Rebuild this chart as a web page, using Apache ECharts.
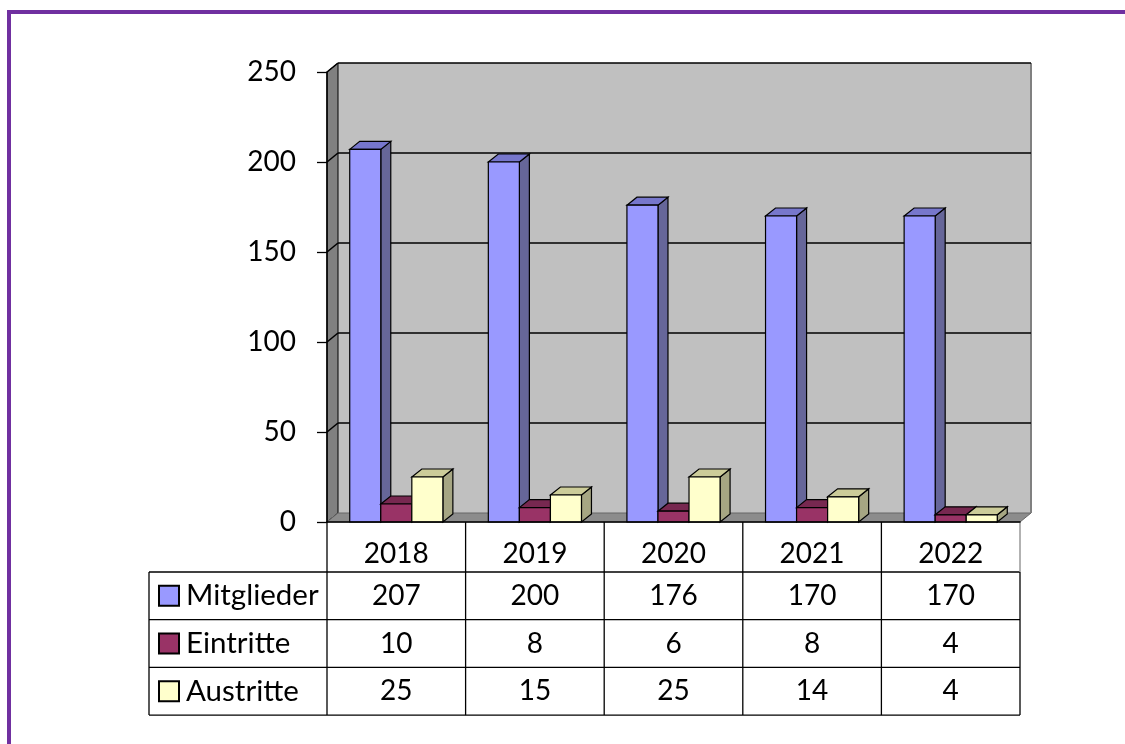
<!DOCTYPE html>
<html><head><meta charset="utf-8">
<script src="https://cdn.jsdelivr.net/npm/echarts@6/dist/echarts.min.js"></script>
<style>html,body{margin:0;padding:0;background:#fff}#c{width:1125px;height:744px}</style>
</head><body><div id="c"></div>
<script>
const categories = ['2018', '2019', '2020', '2021', '2022'];
const seriesNames = ['Mitglieder', 'Eintritte', 'Austritte'];
const mitglieder = [207, 200, 176, 170, 170];
const eintritte = [10, 8, 6, 8, 4];
const austritte = [25, 15, 25, 14, 4];
const yTicks = [0, 50, 100, 150, 200, 250];

const seriesValues = [mitglieder, eintritte, austritte];
const colors = [
  { front: '#9999FF', top: '#7777CC', side: '#666699' },
  { front: '#993366', top: '#772850', side: '#66223F' },
  { front: '#FFFFCC', top: '#CCCC99', side: '#A6A683' }
];
const FONT = 'Lato, "Open Sans", sans-serif';
const WDX = 11, WDY = 9;   // wall depth
const BDX = 10, BDY = 8;   // bar depth
const HEADER_H = 50, ROW_H = 47.7, LEGEND_W = 178;

function frameItem(params, api) {
  const cs = params.coordSys;
  const L = cs.x, T = cs.y, R = cs.x + cs.width, B = cs.y + cs.height;
  const ch = [];
  ch.push({ type: 'rect', shape: { x: L + WDX, y: T - WDY, width: R - L, height: B - T }, style: { fill: '#C0C0C0' } });
  ch.push({ type: 'polygon', shape: { points: [[L, T], [L + WDX, T - WDY], [L + WDX, B - WDY], [L, B]] }, style: { fill: '#808080', stroke: '#000', lineWidth: 1 } });
  ch.push({ type: 'polygon', shape: { points: [[L, B], [L + WDX, B - WDY], [R + WDX, B - WDY], [R, B]] }, style: { fill: '#8c8c8c', stroke: '#666', lineWidth: 1 } });
  ch.push({ type: 'line', shape: { x1: R + WDX, y1: T - WDY, x2: R + WDX, y2: B - WDY }, style: { stroke: '#808080', lineWidth: 2 } });
  yTicks.forEach(v => {
    if (v === 0) return;
    const y = api.coord([0, v])[1];
    ch.push({ type: 'line', shape: { x1: L + WDX, y1: y - WDY, x2: R + WDX, y2: y - WDY }, style: { stroke: '#000', lineWidth: 1.6 } });
    ch.push({ type: 'line', shape: { x1: L, y1: y, x2: L + WDX, y2: y - WDY }, style: { stroke: '#000', lineWidth: 1.6 } });
  });
  // table: legend column and horizontal lines
  const TL = L - LEGEND_W;
  for (let r = 0; r <= 3; r++) {
    const y = B + HEADER_H + r * ROW_H;
    ch.push({ type: 'line', shape: { x1: TL, y1: y, x2: R, y2: y }, style: { stroke: '#000', lineWidth: 1.3 } });
  }
  ch.push({ type: 'line', shape: { x1: TL, y1: B + HEADER_H, x2: TL, y2: B + HEADER_H + 3 * ROW_H }, style: { stroke: '#000', lineWidth: 1.3 } });
  seriesNames.forEach((n, r) => {
    const cy = B + HEADER_H + (r + 0.5) * ROW_H;
    ch.push({ type: 'rect', shape: { x: TL + 10, y: cy - 10, width: 20, height: 20 }, style: { fill: colors[r].front, stroke: '#000', lineWidth: 2 } });
    ch.push({ type: 'text', style: { text: n, x: TL + 37, y: cy, align: 'left', verticalAlign: 'middle', fontSize: 29.5, fontFamily: FONT, fill: '#000' } });
  });
  return { type: 'group', children: ch };
}

function barItem(s) {
  return function (params, api) {
    const ci = api.value(0), v = api.value(1);
    const top = api.coord([ci, v]);
    const base = api.coord([ci, 0]);
    const cw = api.size([1, 0])[0];
    const bw = cw * 0.224;
    const x0 = top[0] - 1.5 * bw + s * bw;
    const ty = top[1], by = base[1];
    const c = colors[s];
    const st = { stroke: '#000', lineWidth: 1.2 };
    return {
      type: 'group', children: [
        { type: 'polygon', shape: { points: [[x0 + bw, ty], [x0 + bw + BDX, ty - BDY], [x0 + bw + BDX, by - BDY], [x0 + bw, by]] }, style: Object.assign({ fill: c.side }, st) },
        { type: 'polygon', shape: { points: [[x0, ty], [x0 + BDX, ty - BDY], [x0 + bw + BDX, ty - BDY], [x0 + bw, ty]] }, style: Object.assign({ fill: c.top }, st) },
        { type: 'rect', shape: { x: x0, y: ty, width: bw, height: by - ty }, style: Object.assign({ fill: c.front }, st) }
      ]
    };
  };
}

function tableItem(params, api) {
  const cs = params.coordSys;
  const B = cs.y + cs.height;
  const ci = api.value(0);
  const cx = api.coord([ci, 0])[0];
  const cw = api.size([1, 0])[0];
  const ch = [];
  const bottom = B + HEADER_H + 3 * ROW_H;
  ch.push({ type: 'line', shape: { x1: cx - cw / 2, y1: B, x2: cx - cw / 2, y2: bottom }, style: { stroke: '#000', lineWidth: 1.3 } });
  if (ci === categories.length - 1) {
    ch.push({ type: 'line', shape: { x1: cx + cw / 2, y1: B, x2: cx + cw / 2, y2: B + HEADER_H }, style: { stroke: '#999', lineWidth: 1.5 } });
    ch.push({ type: 'line', shape: { x1: cx + cw / 2, y1: B + HEADER_H, x2: cx + cw / 2, y2: bottom }, style: { stroke: '#000', lineWidth: 1.3 } });
  }
  for (let r = 0; r < 3; r++) {
    const cy = B + HEADER_H + (r + 0.5) * ROW_H;
    ch.push({ type: 'text', style: { text: String(api.value(r + 1)), x: cx, y: cy, align: 'center', verticalAlign: 'middle', fontSize: 28, fontFamily: FONT, fill: '#000' } });
  }
  return { type: 'group', children: ch };
}

const chart = echarts.init(document.getElementById('c'), null, { renderer: 'canvas' });
chart.setOption({
  animation: false,
  backgroundColor: '#fff',
  textStyle: { fontFamily: FONT },
  graphic: [
    { type: 'rect', shape: { x: 7, y: 10, width: 1118, height: 4 }, style: { fill: '#7030A0' }, z: 100 },
    { type: 'rect', shape: { x: 7, y: 10, width: 4, height: 734 }, style: { fill: '#7030A0' }, z: 100 }
  ],
  grid: { left: 327, top: 72, width: 693, height: 450, containLabel: false },
  xAxis: {
    type: 'category', data: categories, boundaryGap: true,
    axisLine: { show: true, lineStyle: { color: '#000', width: 1.5 } },
    axisTick: { show: false },
    axisLabel: { fontSize: 28, fontFamily: FONT, color: '#000', margin: 18, lineHeight: 28 },
    z: 10
  },
  yAxis: {
    type: 'value', min: 0, max: 250, interval: 50,
    axisLine: { show: true, lineStyle: { color: '#000', width: 1.5 } },
    axisTick: { show: true, length: 10, lineStyle: { color: '#000', width: 1.3 } },
    axisLabel: { fontSize: 28, fontFamily: FONT, color: '#000', margin: 31 },
    splitLine: { show: false },
    z: 10
  },
  series: [
    { type: 'custom', name: 'frame', renderItem: frameItem, data: [[0, 0]], encode: { x: 0, y: 1 }, z: 1, silent: true, clip: false },
    ...seriesNames.map((n, s) => ({
      type: 'custom', name: n, renderItem: barItem(s), z: 2 + s, clip: false,
      data: categories.map((c, i) => [i, seriesValues[s][i]]), encode: { x: 0, y: 1 }
    })),
    { type: 'custom', name: 'table', renderItem: tableItem, z: 6, clip: false,
      data: categories.map((c, i) => [i, mitglieder[i], eintritte[i], austritte[i]]), encode: { x: 0, y: 1 } }
  ]
});
</script>
</body></html>
